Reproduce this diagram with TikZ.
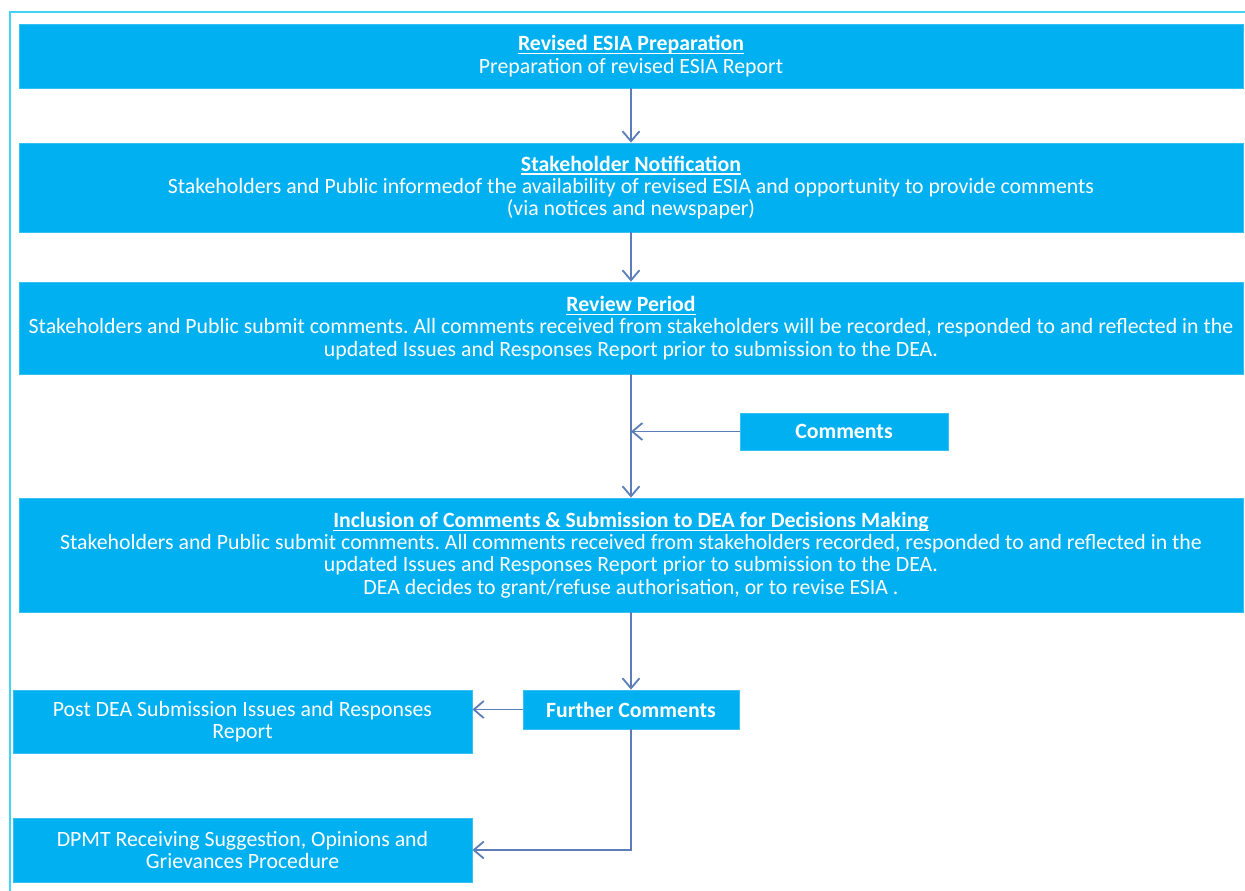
\documentclass[tikz,border=0pt]{standalone}
\usepackage{fontspec}
\setmainfont{Carlito}
\usetikzlibrary{arrows.meta}
\definecolor{boxblue}{HTML}{00B0F0}
\definecolor{arrowblue}{HTML}{5B7DB8}
\definecolor{framecyan}{HTML}{45D2F7}
\newcommand{\ttl}[1]{\textbf{\setbox0\hbox{#1}\rlap{\rule[-1.8pt]{\wd0}{0.6pt}}\box0}}
\frenchspacing
\begin{document}
\begin{tikzpicture}[x=0.5pt,y=-0.5pt,
    box/.style={fill=boxblue,draw=boxblue!80!white,line width=0.4pt,text=white,align=center,inner sep=0pt,font=\fontsize{10.9}{11.2}\selectfont},
    wide/.style={box,minimum width=612pt},
    flow/.style={draw=arrowblue,line width=0.9pt,-{Straight Barb[length=5pt,width=8.5pt]}}]
    \useasboundingbox (0,0) rectangle (1245,890);
    \draw[framecyan,line width=1pt] (10,895) -- (10,12) -- (1250,12);
    \node[wide,minimum height=32pt] (A) at (631,56) {\ttl{Revised ESIA Preparation}\\Preparation of revised ESIA Report};
    \node[wide,minimum height=44.5pt] (B) at (631,187.5) {\ttl{Stakeholder Notification}\\Stakeholders and Public informedof the availability of revised ESIA and opportunity to provide comments\\(via notices and newspaper)};
    \node[wide,minimum height=46pt] (C) at (631,328) {\ttl{Review Period}\\Stakeholders and Public submit comments. All comments received from stakeholders will be recorded, responded to and reflected in the\\updated Issues and Responses Report prior to submission to the DEA.};
    \node[box,minimum width=104pt,minimum height=18.5pt,font=\fontsize{10.9}{11.2}\selectfont\bfseries] (K) at (844,431.5) {Comments};
    \node[wide,minimum height=57pt] (D) at (631,555) {\ttl{Inclusion of Comments \& Submission to DEA for Decisions Making}\\Stakeholders and Public submit comments. All comments received from stakeholders recorded, responded to and reflected in the\\updated Issues and Responses Report prior to submission to the DEA.\\DEA decides to grant/refuse authorisation, or to revise ESIA .};
    \node[box,minimum width=108pt,minimum height=19.5pt,font=\fontsize{10.9}{11.2}\selectfont\bfseries] (F) at (631,709.5) {Further Comments};
    \node[box,minimum width=229.5pt,minimum height=31.5pt] (P) at (242.5,721.5) {Post DEA Submission Issues and Responses\\Report};
    \node[box,minimum width=229.5pt,minimum height=32pt] (G) at (242.5,850) {DPMT Receiving Suggestion, Opinions and\\Grievances Procedure};
    \draw[flow] (A) -- (B);
    \draw[flow] (B) -- (C);
    \draw[flow] (C) -- (D);
    \draw[flow] (K) -- (K -| C);
    \draw[flow] (D) -- (F);
    \draw[flow] (F) -- (F -| P.east);
    \draw[flow] (F) |- (G);
\end{tikzpicture}
\end{document}
